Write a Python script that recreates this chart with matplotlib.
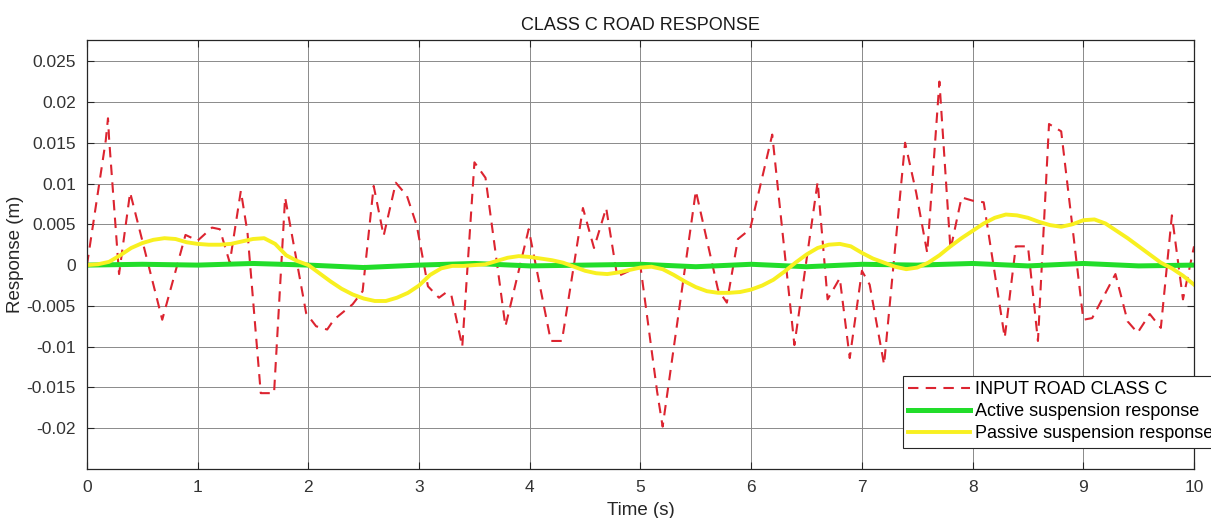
import matplotlib
matplotlib.use("Agg")
import matplotlib.pyplot as plt

# input road profile (class C)
road_t = [0.0, 0.17, 0.19, 0.20, 0.29, 0.39, 0.50, 0.68, 0.89, 1.00,
          1.13, 1.20, 1.29, 1.39, 1.45, 1.57, 1.69, 1.79, 1.98, 2.07,
          2.17, 2.23, 2.40, 2.49, 2.59, 2.68, 2.79, 2.89, 2.98, 3.08,
          3.18, 3.24, 3.29, 3.39, 3.50, 3.60, 3.78, 3.99, 4.19, 4.29,
          4.48, 4.58, 4.69, 4.79, 4.90, 5.00, 5.15, 5.20, 5.50, 5.70,
          5.78, 5.88, 5.99, 6.19, 6.39, 6.60, 6.69, 6.80, 6.89, 7.00,
          7.07, 7.20, 7.39, 7.49, 7.59, 7.70, 7.80, 7.90, 8.00, 8.10,
          8.29, 8.39, 8.50, 8.59, 8.69, 8.80, 9.00, 9.08, 9.29, 9.40,
          9.49, 9.60, 9.70, 9.80, 9.90, 10.0]
road_v = [0.0, 0.0153, 0.0180, 0.0155, -0.0011, 0.0089, 0.0030, -0.0067, 0.0037, 0.0030,
          0.0046, 0.0044, 0.0003, 0.0091, 0.0040, -0.0157, -0.0157, 0.0083, -0.0059, -0.0075,
          -0.0079, -0.0067, -0.0048, -0.0032, 0.0097, 0.0036, 0.0101, 0.0085, 0.0048, -0.0026,
          -0.0040, -0.0034, -0.0036, -0.0100, 0.0126, 0.0107, -0.0075, 0.0044, -0.0093, -0.0093,
          0.0070, 0.0021, 0.0070, -0.0014, -0.0007, -0.0002, -0.0155, -0.0198, 0.0091, -0.0030,
          -0.0046, 0.0032, 0.0044, 0.0160, -0.0098, 0.0102, -0.0042, -0.0016, -0.0114, -0.0007,
          -0.0024, -0.0122, 0.0150, 0.0089, 0.0015, 0.0225, 0.0019, 0.0083, 0.0079, 0.0077,
          -0.0089, 0.0023, 0.0023, -0.0093, 0.0173, 0.0164, -0.0067, -0.0065, -0.0011, -0.0069,
          -0.0083, -0.0060, -0.0077, 0.0061, -0.0042, 0.0023]

# active suspension: stays close to zero
active_t = [0.0, 0.5, 1.0, 1.5, 2.0, 2.5, 3.0, 3.5, 4.0, 4.5, 5.0,
            5.5, 6.0, 6.5, 7.0, 7.5, 8.0, 8.5, 9.0, 9.5, 10.0]
active_v = [0.0, 0.0001, 0.0, 0.0002, 0.0, -0.0003, 0.0, 0.0002, -0.0001, 0.0, 0.0001,
            -0.0002, 0.0001, -0.0002, 0.0001, 0.0, 0.0002, -0.0001, 0.0002, -0.0001, 0.0]

# passive suspension, sampled every 0.1 s
passive_t = [i / 10 for i in range(101)]
passive_v = [0.0, 0.0001, 0.0004, 0.0012, 0.0021, 0.0027, 0.0031, 0.0033, 0.0032, 0.0028,
             0.0026, 0.0025, 0.0025, 0.0026, 0.0029, 0.0032, 0.0033, 0.0026, 0.0012, 0.0005,
             0.0, -0.0010, -0.0020, -0.0029, -0.0036, -0.0041, -0.0044, -0.0044, -0.0040, -0.0034,
             -0.0025, -0.0012, -0.0004, -0.0001, -0.0001, 0.0, 0.0001, 0.0005, 0.0009, 0.0011,
             0.0010, 0.0008, 0.0006, 0.0003, -0.0002, -0.0007, -0.0010, -0.0011, -0.0009, -0.0006,
             -0.0003, -0.0002, -0.0005, -0.0012, -0.0020, -0.0027, -0.0032, -0.0034, -0.0034, -0.0033,
             -0.0030, -0.0025, -0.0018, -0.0008, 0.0003, 0.0013, 0.0021, 0.0025, 0.0026, 0.0023,
             0.0015, 0.0008, 0.0003, -0.0002, -0.0005, -0.0003, 0.0003, 0.0012, 0.0023, 0.0033,
             0.0042, 0.0051, 0.0058, 0.0062, 0.0061, 0.0058, 0.0053, 0.0049, 0.0047, 0.0050,
             0.0055, 0.0056, 0.0051, 0.0042, 0.0033, 0.0023, 0.0013, 0.0003, -0.0004, -0.0013,
             -0.0024]

x_ticks = list(range(11))
y_ticks = [-0.02, -0.015, -0.01, -0.005, 0, 0.005, 0.01, 0.015, 0.02, 0.025]
y_tick_labels = ["-0.02", "-0.015", "-0.01", "-0.005", "0", "0.005", "0.01", "0.015", "0.02", "0.025"]

plt.rcParams["font.family"] = ["Liberation Sans", "DejaVu Sans"]

fig = plt.figure(figsize=(12.11, 5.18), dpi=100)
ax = fig.add_axes([0.0718, 0.0946, 0.9142, 0.8282])

ax.plot(road_t, road_v, color="#dc2430", lw=1.5, ls=(0, (5, 3.5)), label="INPUT ROAD CLASS C")
ax.plot(active_t, active_v, color="#22dd2a", lw=3.6, label="Active suspension response")
ax.plot(passive_t, passive_v, color="#f8f020", lw=2.8, label="Passive suspension response")

ax.set_xlim(0, 10)
ax.set_ylim(-0.025, 0.0276)
ax.set_xticks(x_ticks)
ax.set_xticklabels([str(x) for x in x_ticks])
ax.set_yticks(y_ticks)
ax.set_yticklabels(y_tick_labels)
ax.tick_params(direction="in", length=5, labelsize=12.5, colors="#262626", labelcolor="#333333",
               top=True, right=True, pad=8)
ax.grid(True, color="#8a8a8a", lw=0.7)
for s in ax.spines.values():
    s.set_color("#262626")
    s.set_linewidth(0.9)

ax.set_title("CLASS C ROAD RESPONSE", fontsize=13, color="#1a1a1a", pad=7)
ax.set_xlabel("Time (s)", fontsize=13.5, color="#262626", labelpad=5)
ax.set_ylabel("Response (m)", fontsize=13.5, color="#262626", labelpad=2)

leg = ax.legend(loc="upper left", bbox_to_anchor=(0.737, 0.217), fontsize=13,
                handlelength=3.4, handletextpad=0.3, labelspacing=0.28, borderaxespad=0,
                borderpad=0.3, fancybox=False, framealpha=1, edgecolor="#262626")
leg.get_frame().set_linewidth(0.8)

fig.savefig("out.png", dpi=100)
